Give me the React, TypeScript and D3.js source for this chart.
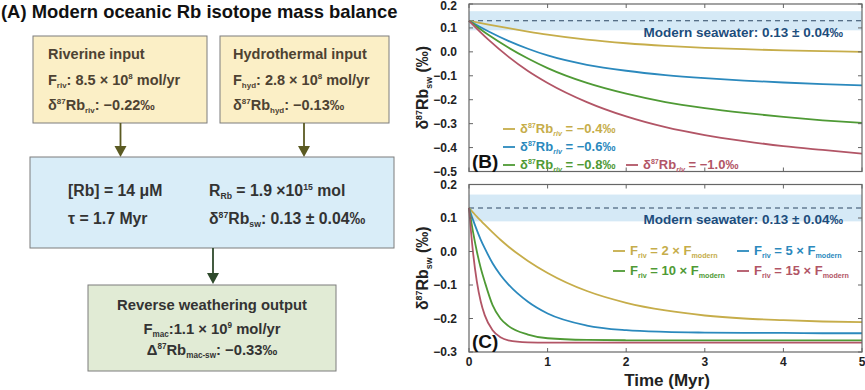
import * as d3 from "d3";

// ---- data ----
const timesB = [0, 0.25, 0.5, 0.75, 1, 1.5, 2, 2.5, 3, 3.5, 4, 4.5, 5];
const rivMinus04 = [0.13, 0.114, 0.099, 0.085, 0.072, 0.051, 0.036, 0.025, 0.017, 0.011, 0.006, 0.003, 0.0];
const rivMinus06 = [0.13, 0.085, 0.046, 0.013, -0.015, -0.054, -0.079, -0.097, -0.11, -0.12, -0.128, -0.135, -0.14];
const rivMinus08 = [0.13, 0.07, 0.018, -0.028, -0.068, -0.13, -0.175, -0.21, -0.235, -0.255, -0.272, -0.286, -0.297];
const rivMinus10 = [0.13, 0.05, -0.02, -0.08, -0.13, -0.21, -0.27, -0.315, -0.348, -0.373, -0.394, -0.41, -0.425];

const timesC = [0, 0.05, 0.1, 0.15, 0.2, 0.3, 0.4, 0.5, 0.75, 1, 1.5, 2, 2.5, 3, 3.5, 4, 4.5, 5];
const flux2x = [0.13, 0.117, 0.104, 0.092, 0.08, 0.057, 0.035, 0.015, -0.028, -0.064, -0.118, -0.153, -0.176, -0.191, -0.2, -0.205, -0.209, -0.211];
const flux5x = [0.13, 0.095, 0.064, 0.035, 0.01, -0.035, -0.07, -0.098, -0.15, -0.185, -0.221, -0.235, -0.24, -0.242, -0.243, -0.243, -0.244, -0.244];
const flux10x = [0.13, 0.06, 0.0, -0.05, -0.09, -0.16, -0.2, -0.222, -0.248, -0.259, -0.264, -0.265, -0.265, -0.265, -0.265, -0.265, -0.265, -0.265];
const flux15x = [0.13, 0.0, -0.09, -0.15, -0.19, -0.235, -0.256, -0.265, -0.271, -0.272, -0.272, -0.272, -0.272, -0.272, -0.272, -0.272, -0.272, -0.272];

const xTicks = [0, 1, 2, 3, 4, 5];
const yTicksB = [0.2, 0.1, 0.0, -0.1, -0.2, -0.3, -0.4, -0.5];
const yTicksC = [0.2, 0.1, 0.0, -0.1, -0.2, -0.3];
const seawater = 0.13;
const seawaterErr = 0.04;

const colors = ["#c6ad4a", "#2b89bd", "#4f9a35", "#b25566"];
const FONT = "'Liberation Sans', Arial, sans-serif";

type Seg = [string, string?];

// text with sub/superscripts
function Rich(props: { x: number; y: number; segs: Seg[]; size: number; fill: string; anchor?: string; italicSub?: boolean }) {
  const { x, y, segs, size, fill, anchor, italicSub } = props;
  let off = 0;
  const spans = segs.map((s, i) => {
    const kind = s[1] || "";
    const target = kind === "sup" ? -size * 0.38 : kind === "sub" ? size * 0.22 : 0;
    const dy = target - off;
    off = target;
    const fs = kind ? size * 0.55 : size;
    return (
      <tspan key={i} dy={dy} fontSize={fs} fontStyle={kind === "sub" && italicSub ? "italic" : undefined}>
        {s[0]}
      </tspan>
    );
  });
  return (
    <text x={x} y={y} fontSize={size} fill={fill} fontWeight="bold" fontFamily={FONT} textAnchor={anchor || "start"}>
      {spans}
    </text>
  );
}

const x = d3.scaleLinear().domain([0, 5]).range([469, 862]);
const yB = d3.scaleLinear().domain([-0.5, 0.2]).range([171.5, 4]);
const yC = d3.scaleLinear().domain([-0.3, 0.2]).range([352, 184.5]);

function Panel(props: { y: d3.ScaleLinear<number, number>; ticks: number[]; times: number[]; series: number[][]; label: string; bottom: boolean }) {
  const { y, ticks, times, series, label, bottom } = props;
  const [y0, y1] = y.range();
  const [x0, x1] = x.range();
  const line = d3
    .line<number>()
    .x((_, i) => x(times[i]))
    .y((d) => y(d))
    .curve(d3.curveMonotoneX);
  const fmt = (v: number) => (v < 0 ? "\u2212" + Math.abs(v).toFixed(1) : v.toFixed(1));
  return (
    <g>
      <rect x={x0} y={y(seawater + seawaterErr)} width={x1 - x0} height={y(seawater - seawaterErr) - y(seawater + seawaterErr)} fill="#d5e9f6" />
      <line x1={x0} x2={x1} y1={y(seawater)} y2={y(seawater)} stroke="#2c4763" strokeWidth={1.1} strokeDasharray="5,4" />
      {series.map((s, i) => (
        <path key={i} d={line(s) || ""} fill="none" stroke={colors[i]} strokeWidth={1.8} />
      ))}
      <rect x={x0} y={y1} width={x1 - x0} height={y0 - y1} fill="none" stroke="#666" strokeWidth={1.2} />
      {ticks.map((t) => (
        <g key={t}>
          <line x1={x0} x2={x0 + 4} y1={y(t)} y2={y(t)} stroke="#666" />
          <line x1={x1} x2={x1 - 4} y1={y(t)} y2={y(t)} stroke="#666" />
          <text x={457} y={Math.max(y(t) + 4, 10)} textAnchor="end" fontSize={12} fontWeight="bold" fontFamily={FONT} fill="#222">
            {fmt(t)}
          </text>
        </g>
      ))}
      {xTicks.map((t) => (
        <g key={t}>
          <line x1={x(t)} x2={x(t)} y1={y0} y2={y0 - 4} stroke="#666" />
          <line x1={x(t)} x2={x(t)} y1={y1} y2={y1 + 4} stroke="#666" />
          {bottom && (
            <text x={x(t)} y={366} textAnchor="middle" fontSize={12} fontWeight="bold" fontFamily={FONT} fill="#222">
              {t}
            </text>
          )}
        </g>
      ))}
      <text x={843} y={y(seawater) + 16} textAnchor="end" fontSize={13.5} fontWeight="bold" fontFamily={FONT} fill="#1d4d7c">
        Modern seawater: 0.13 ± 0.04‰
      </text>
      <text x={472} y={y0 - 4} fontSize={19} fontWeight="bold" fontFamily={FONT} fill="#111">
        {label}
      </text>
      <g transform={`translate(428,${(y0 + y1) / 2}) rotate(-90)`}>
        <Rich x={0} y={0} anchor="middle" size={16} fill="#222" segs={[["δ"], ["87", "sup"], ["Rb"], ["sw", "sub"], [" (‰)"]]} />
      </g>
    </g>
  );
}

function LegendItem(props: { x: number; y: number; color: string; segs: Seg[]; italic?: boolean }) {
  const { x: lx, y: ly, color, segs, italic } = props;
  return (
    <g>
      <line x1={lx} x2={lx + 12} y1={ly - 4} y2={ly - 4} stroke={color} strokeWidth={1.8} />
      <Rich x={lx + 17} y={ly} size={13} fill={color} segs={segs} italicSub={italic} />
    </g>
  );
}

function Box(props: { x: number; y: number; w: number; h: number; fill: string }) {
  return <rect x={props.x} y={props.y} width={props.w} height={props.h} fill={props.fill} stroke="#7d7d7d" strokeWidth={1} />;
}

function Arrow(props: { x: number; y1: number; y2: number; color: string }) {
  const { x: ax, y1, y2, color } = props;
  return (
    <g>
      <line x1={ax} x2={ax} y1={y1} y2={y2 - 9} stroke={color} strokeWidth={1.8} />
      <path d={`M${ax - 6},${y2 - 11} L${ax + 6},${y2 - 11} L${ax},${y2} Z`} fill={color} />
    </g>
  );
}

export default function App() {
  const boxText = "#4d4232";
  return (
    <svg width={865} height={390} style={{ position: "absolute", left: 0, top: 0, background: "#fff" }}>
      {/* (A) schematic */}
      <text x={1} y={18} fontSize={18.4} fontWeight="bold" fontFamily={FONT} fill="#111">
        (A) Modern oceanic Rb isotope mass balance
      </text>
      <Box x={33} y={36} w={174} h={87} fill="#fbefc6" />
      <Box x={220} y={36} w={169} h={87} fill="#fbefc6" />
      <Rich x={48} y={59} size={14.5} fill={boxText} segs={[["Riverine input"]]} />
      <Rich x={48} y={85} size={14.5} fill={boxText} segs={[["F"], ["riv", "sub"], [": 8.5 × 10"], ["8", "sup"], [" mol/yr"]]} />
      <Rich x={48} y={110} size={14.5} fill={boxText} segs={[["δ"], ["87", "sup"], ["Rb"], ["riv", "sub"], [": −0.22‰"]]} />
      <Rich x={233} y={59} size={14.5} fill={boxText} segs={[["Hydrothermal input"]]} />
      <Rich x={233} y={85} size={14.5} fill={boxText} segs={[["F"], ["hyd", "sub"], [": 2.8 × 10"], ["8", "sup"], [" mol/yr"]]} />
      <Rich x={233} y={110} size={14.5} fill={boxText} segs={[["δ"], ["87", "sup"], ["Rb"], ["hyd", "sub"], [": −0.13‰"]]} />
      <Arrow x={120.5} y1={123} y2={157} color="#5b5a22" />
      <Arrow x={304} y1={123} y2={157} color="#5b5a22" />

      <Box x={30} y={157} w={364} h={91} fill="#d9edf8" />
      <Rich x={68} y={196} size={15.8} fill="#333" segs={[["[Rb] = 14 μM"]]} />
      <Rich x={68} y={224} size={15.8} fill="#333" segs={[["τ = 1.7 Myr"]]} />
      <Rich x={209} y={196} size={15.8} fill="#333" segs={[["R"], ["Rb", "sub"], [" = 1.9 ×10"], ["15", "sup"], [" mol"]]} />
      <Rich x={209} y={224} size={15.8} fill="#333" segs={[["δ"], ["87", "sup"], ["Rb"], ["sw", "sub"], [": 0.13 ± 0.04‰"]]} />
      <Arrow x={213} y1={248} y2={284} color="#2f4a2c" />

      <Box x={88} y={285} w={248} h={86} fill="#e1ebd5" />
      <Rich x={212} y={310} size={14.8} anchor="middle" fill="#333" segs={[["Reverse weathering output"]]} />
      <Rich x={212} y={334} size={14.8} anchor="middle" fill="#333" segs={[["F"], ["mac", "sub"], [":1.1 × 10"], ["9", "sup"], [" mol/yr"]]} />
      <Rich x={212} y={355} size={14.8} anchor="middle" fill="#333" segs={[["Δ"], ["87", "sup"], ["Rb"], ["mac-sw", "sub"], [": −0.33‰"]]} />

      {/* (B) */}
      <Panel y={yB} ticks={yTicksB} times={timesB} series={[rivMinus04, rivMinus06, rivMinus08, rivMinus10]} label="(B)" bottom={false} />
      <LegendItem x={503} y={133} color={colors[0]} italic segs={[["δ"], ["87", "sup"], ["Rb"], ["riv", "sub"], [" = −0.4‰"]]} />
      <LegendItem x={503} y={151} color={colors[1]} italic segs={[["δ"], ["87", "sup"], ["Rb"], ["riv", "sub"], [" = −0.6‰"]]} />
      <LegendItem x={503} y={169} color={colors[2]} italic segs={[["δ"], ["87", "sup"], ["Rb"], ["riv", "sub"], [" = −0.8‰"]]} />
      <LegendItem x={626} y={169} color={colors[3]} italic segs={[["δ"], ["87", "sup"], ["Rb"], ["riv", "sub"], [" = −1.0‰"]]} />

      {/* (C) */}
      <Panel y={yC} ticks={yTicksC} times={timesC} series={[flux2x, flux5x, flux10x, flux15x]} label="(C)" bottom={true} />
      <LegendItem x={613} y={255} color={colors[0]} segs={[["F"], ["riv", "sub"], [" = 2 × F"], ["modern", "sub"]]} />
      <LegendItem x={737} y={255} color={colors[1]} segs={[["F"], ["riv", "sub"], [" = 5 × F"], ["modern", "sub"]]} />
      <LegendItem x={613} y={275} color={colors[2]} segs={[["F"], ["riv", "sub"], [" = 10 × F"], ["modern", "sub"]]} />
      <LegendItem x={737} y={275} color={colors[3]} segs={[["F"], ["riv", "sub"], [" = 15 × F"], ["modern", "sub"]]} />

      <text x={667} y={386} textAnchor="middle" fontSize={17} fontWeight="bold" fontFamily={FONT} fill="#222">
        Time (Myr)
      </text>
    </svg>
  );
}
